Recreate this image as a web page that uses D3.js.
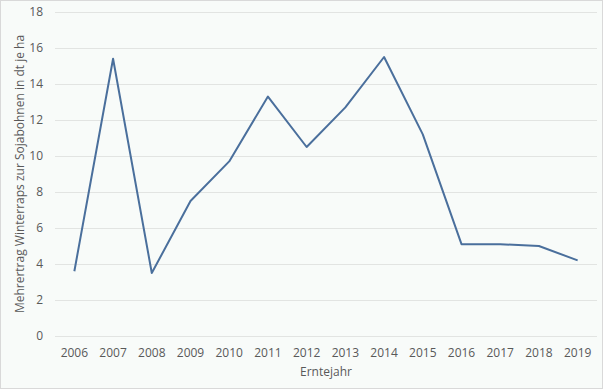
<!DOCTYPE html>
<html><head><meta charset="utf-8">
<script src="https://cdn.jsdelivr.net/npm/d3@7"></script>
<style>
html,body{margin:0;padding:0;background:#fff;}
svg{display:block;}
text{font-family:"Open Sans","Liberation Sans",sans-serif;fill:#595959;}
</style></head><body>
<svg id="c" width="604" height="390"></svg>
<script>
const years = ["2006","2007","2008","2009","2010","2011","2012","2013","2014","2015","2016","2017","2018","2019"];
const values = [3.6,15.4,3.5,7.5,9.7,13.3,10.5,12.7,15.5,11.2,5.1,5.1,5.0,4.2];
const yTicks = [0,2,4,6,8,10,12,14,16,18];
const xTitle = "Erntejahr";
const yTitle = "Mehrertrag Winterraps zur Sojabohnen in dt je ha";

const svg = d3.select("#c");
svg.append("rect").attr("x",0.5).attr("y",0.5).attr("width",602).attr("height",388)
  .attr("fill","#f8fbf9").attr("stroke","#d9d9d9");

const m = {l:55, r:597, t:12, b:336};
const x = d3.scaleBand().domain(years).range([m.l,m.r]);
const y = d3.scaleLinear().domain([0,18]).range([m.b,m.t]);

const yAxis = svg.append("g").attr("transform",`translate(${m.l},0)`)
  .call(d3.axisLeft(y).tickValues(yTicks).tickSize(-(m.r-m.l)).tickPadding(12));
yAxis.select(".domain").remove();
yAxis.selectAll("line").attr("stroke","#e2e4e2");
yAxis.selectAll("text").attr("font-size","12px").attr("fill","#595959");

const xAxis = svg.append("g").attr("transform",`translate(0,${m.b})`)
  .call(d3.axisBottom(x).tickSize(0).tickPadding(12));
xAxis.select(".domain").remove();
xAxis.selectAll("text").attr("font-size","12px").attr("fill","#595959");

const line = d3.line().x((d,i)=>x(years[i])+x.bandwidth()/2).y(d=>y(d));
svg.append("path").datum(values).attr("d",line).attr("fill","none")
  .attr("stroke","#4a6f9c").attr("stroke-width",2).attr("stroke-linejoin","round");

svg.append("text").attr("x",(m.l+m.r)/2).attr("y",376).attr("text-anchor","middle")
  .attr("font-size","12px").text(xTitle);
svg.append("text").attr("transform",`translate(24,${(m.t+m.b)/2}) rotate(-90)`)
  .attr("text-anchor","middle").attr("font-size","12px").text(yTitle);
</script></body></html>
